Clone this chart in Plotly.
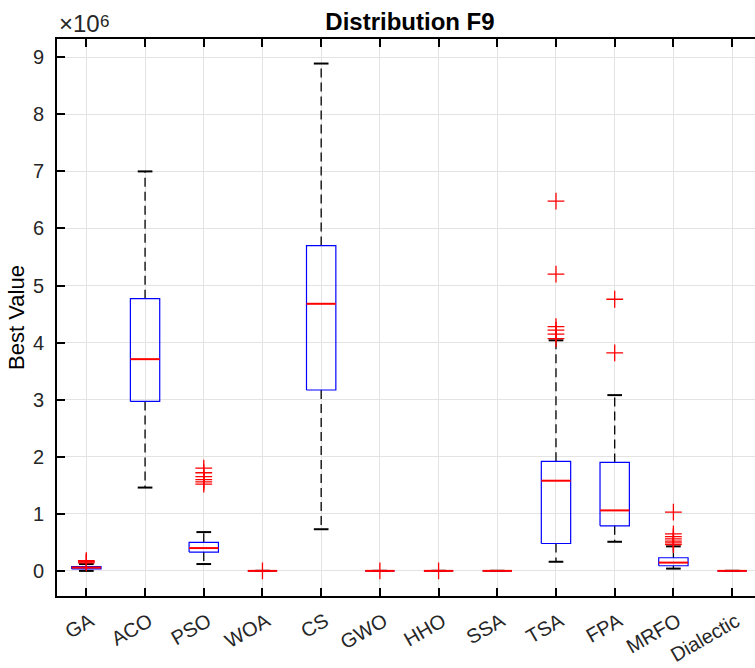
import plotly.graph_objects as go

algorithms = ["GA", "ACO", "PSO", "WOA", "CS", "GWO", "HHO", "SSA", "TSA", "FPA", "MRFO", "Dialectic"]
# box statistics (actual values)
lower_whisker = [0.00e6, 1.46e6, 0.12e6, 0, 0.73e6, 0, 0, 0, 0.16e6, 0.51e6, 0.04e6, 0]
q1 = [0.035e6, 2.97e6, 0.33e6, 0, 3.17e6, 0, 0, 0, 0.48e6, 0.79e6, 0.09e6, 0]
median = [0.058e6, 3.71e6, 0.40e6, 0, 4.68e6, 0, 0, 0, 1.58e6, 1.06e6, 0.145e6, 0]
q3 = [0.075e6, 4.77e6, 0.50e6, 0, 5.70e6, 0, 0, 0, 1.92e6, 1.90e6, 0.23e6, 0]
upper_whisker = [0.12e6, 7.00e6, 0.68e6, 0, 8.89e6, 0, 0, 0, 4.04e6, 3.08e6, 0.43e6, 0]
outliers = [
    [0.14e6, 0.16e6, 0.18e6],
    [],
    [1.52e6, 1.56e6, 1.60e6, 1.65e6, 1.72e6, 1.80e6],
    [0.0],
    [],
    [0.0],
    [0.0],
    [],
    [4.07e6, 4.15e6, 4.22e6, 4.28e6, 5.20e6, 6.48e6],
    [3.82e6, 4.76e6],
    [0.46e6, 0.49e6, 0.52e6, 0.56e6, 0.60e6, 0.65e6, 1.03e6],
    [],
]
y_ticks = [0, 1e6, 2e6, 3e6, 4e6, 5e6, 6e6, 7e6, 8e6, 9e6]
y_tick_text = ["0", "1", "2", "3", "4", "5", "6", "7", "8", "9"]

BOX_HALF = 0.25
CAP_HALF = 0.125

wx, wy, cx, cy, bx, by, mx, my, ox, oy = [], [], [], [], [], [], [], [], [], []
for i, name in enumerate(algorithms):
    p = i + 1
    # whiskers
    wx += [p, p, None, p, p, None]
    wy += [q3[i], upper_whisker[i], None, q1[i], lower_whisker[i], None]
    # caps
    cx += [p - CAP_HALF, p + CAP_HALF, None, p - CAP_HALF, p + CAP_HALF, None]
    cy += [upper_whisker[i], upper_whisker[i], None, lower_whisker[i], lower_whisker[i], None]
    # box
    bx += [p - BOX_HALF, p + BOX_HALF, p + BOX_HALF, p - BOX_HALF, p - BOX_HALF, None]
    by += [q1[i], q1[i], q3[i], q3[i], q1[i], None]
    # median
    mx += [p - BOX_HALF, p + BOX_HALF, None]
    my += [median[i], median[i], None]
    for v in outliers[i]:
        ox.append(p)
        oy.append(v)

fig = go.Figure()
fig.add_trace(go.Scatter(x=wx, y=wy, mode="lines",
                         line=dict(color="black", width=1.3, dash="9px,5px"), hoverinfo="skip"))
fig.add_trace(go.Scatter(x=cx, y=cy, mode="lines",
                         line=dict(color="black", width=2), hoverinfo="skip"))
fig.add_trace(go.Scatter(x=bx, y=by, mode="lines",
                         line=dict(color="#0000ff", width=1.2), hoverinfo="skip"))
fig.add_trace(go.Scatter(x=mx, y=my, mode="lines",
                         line=dict(color="#ff0000", width=2), hoverinfo="skip"))
fig.add_trace(go.Scatter(x=ox, y=oy, mode="markers",
                         marker=dict(symbol="cross-thin", size=12,
                                     line=dict(color="#ff0000", width=1.3)),
                         hoverinfo="skip"))

font_family = "Liberation Sans, Arial, sans-serif"
fig.update_layout(
    width=755, height=668,
    margin=dict(l=57, r=0, t=39, b=72),
    paper_bgcolor="white", plot_bgcolor="white",
    showlegend=False,
    font=dict(family=font_family, size=20, color="#262626"),
    title=dict(text="<b>Distribution F9</b>", x=0.543, xanchor="center",
               y=0.968, yanchor="middle",
               font=dict(family=font_family, size=24, color="black")),
)
fig.update_xaxes(
    range=[0.5, 12.39],
    tickmode="array", tickvals=list(range(1, len(algorithms) + 1)), ticktext=algorithms,
    tickangle=-30,
    showgrid=True, gridcolor="#e3e3e3", gridwidth=1,
    showline=True, linecolor="black", linewidth=2, mirror="ticks",
    ticks="inside", ticklen=8, tickwidth=2, tickcolor="black",
    zeroline=False,
    ticklabelstandoff=4, ticklabelshift=4,
    tickfont=dict(size=20, color="#262626"),
)
fig.update_yaxes(
    range=[-0.44e6, 9.32e6],
    tickmode="array", tickvals=y_ticks, ticktext=y_tick_text,
    showgrid=True, gridcolor="#e3e3e3", gridwidth=1,
    showline=True, linecolor="black", linewidth=2,
    ticks="inside", ticklen=8, tickwidth=2, tickcolor="black",
    zeroline=False,
    ticklabelstandoff=7,
    title=dict(text="Best Value", font=dict(size=22, color="black"), standoff=2),
    tickfont=dict(size=20, color="#262626"),
)
fig.add_annotation(text="×10", xref="paper", yref="paper",
                   x=0.0, y=1.0, xanchor="left", yanchor="bottom", yshift=0, xshift=0,
                   showarrow=False, font=dict(family=font_family, size=24, color="#262626"))
fig.add_annotation(text="6", xref="paper", yref="paper",
                   x=0.0, y=1.0, xanchor="left", yanchor="top", yshift=29, xshift=41,
                   showarrow=False, font=dict(family=font_family, size=17, color="#262626"))

fig.write_html("out.html")
